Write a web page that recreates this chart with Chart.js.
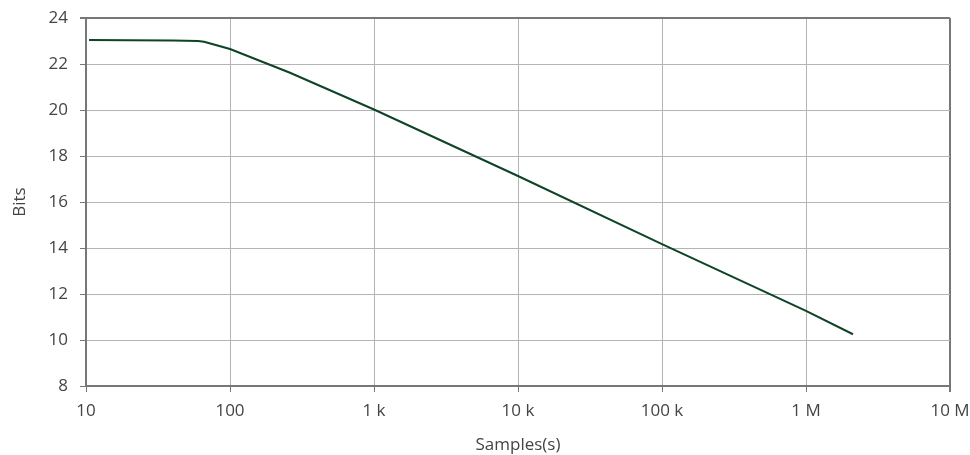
<!DOCTYPE html>
<html>
<head>
<meta charset="utf-8">
<script src="https://cdn.jsdelivr.net/npm/chart.js@4/dist/chart.umd.min.js"></script>
<style>
html,body{margin:0;padding:0;background:#fff;}
#wrap{width:970px;height:455px;}
</style>
</head>
<body>
<div id="wrap"><canvas id="c" width="970" height="455"></canvas></div>
<script>
const samples = [10.5, 20, 40, 60, 66, 72, 100, 261, 1000, 10000, 100000, 1000000, 2120000];
const bits = [23.04, 23.03, 23.02, 23.0, 22.97, 22.9, 22.65, 21.62, 20.02, 17.13, 14.17, 11.27, 10.25];
const xTickValues = [10, 100, 1000, 10000, 100000, 1000000, 10000000];
const xTickLabels = ['10', '100', '1 k', '10 k', '100 k', '1 M', '10 M'];
const yTickValues = [8, 10, 12, 14, 16, 18, 20, 22, 24];
const xTitle = 'Samples(s)';
const yTitle = 'Bits';

const points = samples.map((s, i) => ({x: s, y: bits[i]}));
const FONT = '"Open Sans", sans-serif';
const TXT = '#444';

new Chart(document.getElementById('c'), {
  type: 'line',
  data: {
    datasets: [{
      data: points,
      borderColor: '#0d4426',
      borderWidth: 2,
      pointRadius: 0,
      tension: 0,
      fill: false
    }]
  },
  options: {
    responsive: false,
    animation: false,
    devicePixelRatio: 1,
    layout: {padding: {top: 18, right: 20, bottom: 0, left: 0}},
    plugins: {legend: {display: false}, tooltip: {enabled: false}},
    scales: {
      x: {
        type: 'logarithmic',
        min: 10, max: 10000000,
        afterBuildTicks: (scale) => { scale.ticks = xTickValues.map(v => ({value: v})); },
        afterFit: (scale) => { scale.height = 69; scale.paddingLeft = 0; scale.paddingRight = 0; },
        ticks: {
          autoSkip: false, maxRotation: 0, padding: 9,
          color: TXT, font: {family: FONT, size: 17},
          callback: (v) => { const i = xTickValues.indexOf(v); return i >= 0 ? xTickLabels[i] : ''; }
        },
        grid: {
          color: (ctx) => ctx.index === xTickValues.length - 1 ? '#777' : '#b4b4b4',
          lineWidth: (ctx) => ctx.index === xTickValues.length - 1 ? 2 : 1,
          tickLength: 6, tickColor: '#777'
        },
        border: {color: '#777', width: 2},
        title: {display: true, text: xTitle, color: TXT, font: {family: FONT, size: 17}, padding: {top: 7, bottom: 0}}
      },
      y: {
        min: 8, max: 24,
        afterBuildTicks: (scale) => { scale.ticks = yTickValues.map(v => ({value: v})); },
        afterFit: (scale) => { scale.width = 86; scale.paddingTop = 0; scale.paddingBottom = 0; },
        ticks: {color: TXT, font: {family: FONT, size: 17}, padding: 12},
        grid: {
          color: (ctx) => ctx.index === yTickValues.length - 1 ? '#777' : '#b4b4b4',
          lineWidth: (ctx) => ctx.index === yTickValues.length - 1 ? 2 : 1,
          tickLength: 6, tickColor: '#777'
        },
        border: {color: '#777', width: 2},
        title: {display: true, text: yTitle, color: TXT, font: {family: FONT, size: 17}, padding: {top: 10, bottom: 0}}
      }
    }
  }
});
</script>
</body>
</html>
